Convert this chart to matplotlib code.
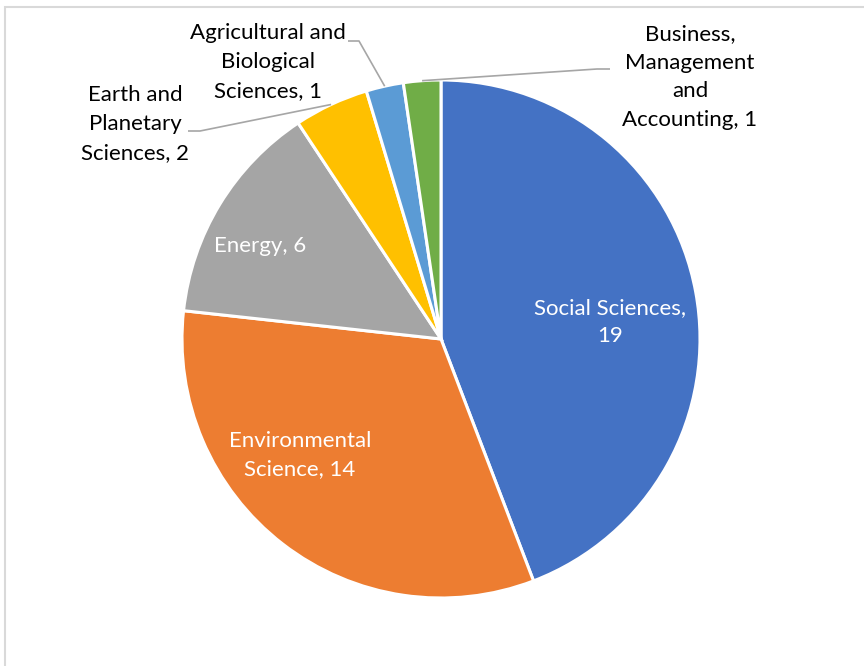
import numpy as np
import matplotlib
matplotlib.use('Agg')
import matplotlib.pyplot as plt
from matplotlib.patches import Rectangle

plt.rcParams['font.family'] = ['Lato', 'DejaVu Sans']

labels = ['Social Sciences', 'Environmental Science', 'Energy',
          'Earth and Planetary Sciences', 'Agricultural and Biological Sciences',
          'Business, Management and Accounting']
values = [19, 14, 6, 2, 1, 1]
colors = ['#4472C4', '#ED7D31', '#A5A5A5', '#FFC000', '#5B9BD5', '#70AD47']

# label text as shown (wrapped), inside or outside
label_text = ['Social Sciences,\n19', 'Environmental\nScience, 14', 'Energy, 6',
              'Earth and\nPlanetary\nSciences, 2', 'Agricultural and\nBiological\nSciences, 1',
              'Business,\nManagement\nand\nAccounting, 1']

W, H = 864, 666
fig = plt.figure(figsize=(W / 100, H / 100), dpi=100)
ax = fig.add_axes([0, 0, 1, 1])
ax.set_xlim(0, W)
ax.set_ylim(0, H)
ax.set_aspect('equal')
ax.axis('off')

cx, cy, r = 441, H - 339, 259
wedges, _ = ax.pie(values, colors=colors, startangle=90, counterclock=False,
                   center=(cx, cy), radius=r,
                   wedgeprops=dict(edgecolor='white', linewidth=2.2))
ax.set_xlim(0, W)
ax.set_ylim(0, H)

fs = 16
ls = 1.55
# inside labels
inside_pos = {0: (610, H - 322), 1: (300, H - 455), 2: (260, H - 246)}
for i, (x, y) in inside_pos.items():
    ax.text(x, y, label_text[i], color='white', fontsize=fs, ha='center',
            va='center', linespacing=ls)

# outside labels with leader lines
outside = {
    3: dict(text=(135, H - 124), elbow=[(188, H - 131), (200, H - 131)]),
    4: dict(text=(268, H - 62), elbow=[(348, H - 41), (359, H - 41)]),
    5: dict(text=(690, H - 77), elbow=[(610, H - 69), (597, H - 69)]),
}
for i, spec in outside.items():
    w = wedges[i]
    mid = np.deg2rad((w.theta1 + w.theta2) / 2)
    px, py = cx + r * np.cos(mid), cy + r * np.sin(mid)
    pts = spec['elbow'] + [(px, py)]
    xs, ys = zip(*pts)
    ax.plot(xs, ys, color='#A6A6A6', lw=1.2, solid_capstyle='butt')
    ax.text(*spec['text'], label_text[i], color='black', fontsize=fs,
            ha='center', va='center', linespacing=ls)

# chart area frame
fig.patches.append(Rectangle((4.5 / W, -0.1), 1.2, 1.1 - 7 / H,
                             transform=fig.transFigure, fill=False,
                             edgecolor='#D9D9D9', lw=1.5))

fig.savefig('out.png', dpi=100, facecolor='white')
